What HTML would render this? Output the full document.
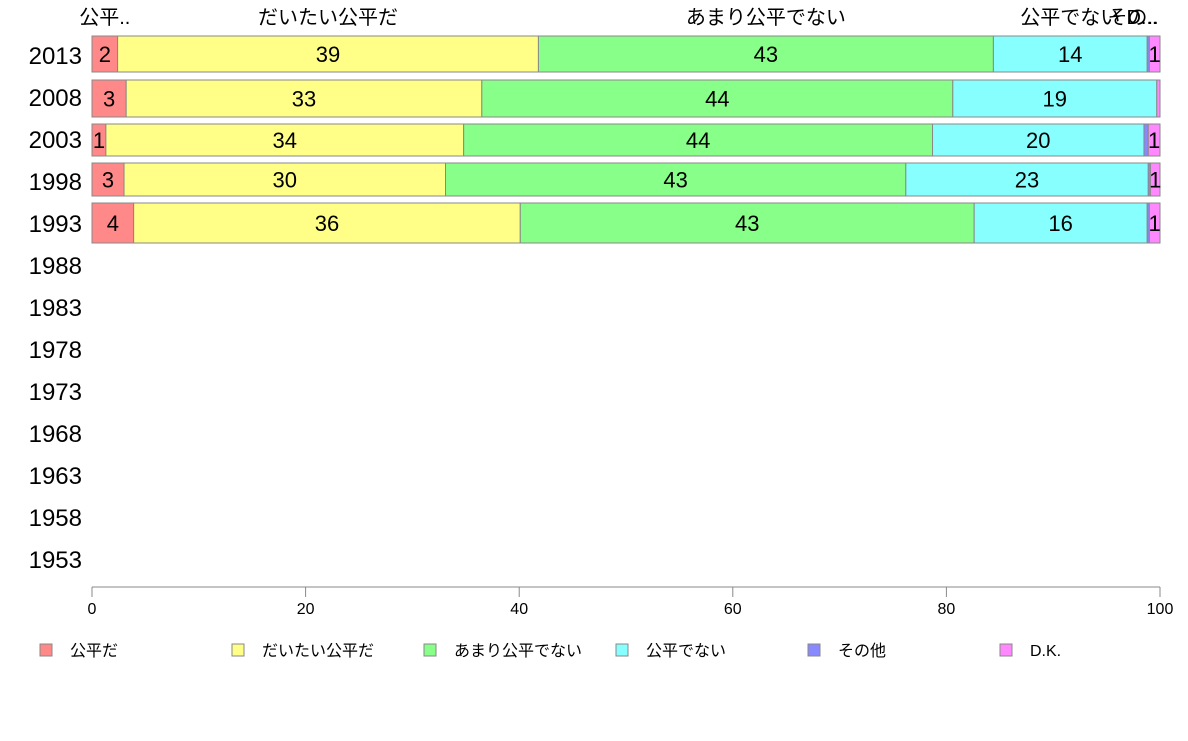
<!DOCTYPE html>
<html><head><meta charset="utf-8"><style>
body{margin:0;background:#fff;width:1188px;height:736px;overflow:hidden}
svg{font-family:"Liberation Sans","Noto Sans CJK JP",sans-serif}
</style></head><body>
<svg id="c" width="1188" height="736"></svg>
<script>
const years=["2013","2008","2003","1998","1993","1988","1983","1978","1973","1968","1963","1958","1953"];
const seriesNames=["公平だ","だいたい公平だ","あまり公平でない","公平でない","その他","D.K."];
const s1=[2.4,3.2,1.3,3.0,3.9];
const s2=[39.4,33.3,33.5,30.1,36.2];
const s3=[42.6,44.1,43.9,43.1,42.5];
const s4=[14.4,19.1,19.8,22.7,16.2];
const s5=[0.2,0.0,0.4,0.2,0.2];
const s6=[1.0,0.3,1.1,0.9,1.0];
const xTicks=[0,20,40,60,80,100];
const topLabels=["公平..","だいたい公平だ","あまり公平でない","公平でない","その..","D..."];
const colors=["#ff8888","#ffff88","#88ff88","#88ffff","#8888ff","#ff88ff"];
const svg=document.getElementById('c');const NS="http://www.w3.org/2000/svg";
function mk(t,a,txt){const e=document.createElementNS(NS,t);for(const k in a)e.setAttribute(k,a[k]);if(txt!=null)e.textContent=txt;svg.appendChild(e);return e;}
const x=v=>92+v*10.68;
const rowY=i=>55+i*42.0;
const barTop=[36,80,124,163,203],barBot=[72,117,156,196,243];
// year labels
years.forEach((yr,i)=>{const t=mk('text',{x:82,y:rowY(i)+9,'text-anchor':'end','font-size':24,fill:'#000'},yr);

});
const series=[s1,s2,s3,s4,s5,s6];
for(let r=0;r<s1.length;r++){let acc=0;
 series.forEach((s,k)=>{const v=s[r];const x0=x(acc),x1=x(acc+v);acc+=v;
  const rc=mk('rect',{x:x0,y:barTop[r],width:Math.max(0,x1-x0),height:barBot[r]-barTop[r],fill:colors[k],stroke:'#888','stroke-width':1});
  
  
  if(v>=0.6){const t=mk('text',{x:(x0+x1)/2,y:(barTop[r]+barBot[r])/2+8,'text-anchor':'middle','font-size':22,fill:'#000'},Math.round(v));
   
   }
 });}
// top labels centered on first row segments
{let acc=0;const cx=[];series.forEach((s,k)=>{cx.push(x(acc+s[0]/2));acc+=s[0];});
 cx[4]=1133;cx[5]=1142;
 topLabels.forEach((l,k)=>{const t=mk('text',{x:cx[k],y:24,'text-anchor':'middle','font-size':20,fill:'#000'},l);
 
 });}
// axis
const ax=mk('line',{x1:92,y1:587,x2:1160,y2:587,stroke:'#888'});


xTicks.forEach(v=>{mk('line',{x1:x(v),y1:587,x2:x(v),y2:597,stroke:'#888'});
 const t=mk('text',{x:x(v),y:614,'text-anchor':'middle','font-size':16,fill:'#000'},v);
 
 });
// legend
seriesNames.forEach((n,k)=>{const lx=40+k*192;
 const r=mk('rect',{x:lx,y:644,width:12,height:12,fill:colors[k],stroke:'#888'});
 
 
 const t=mk('text',{x:lx+30,y:656,'font-size':16,fill:'#000'},n);
 
 });
</script></body></html>
